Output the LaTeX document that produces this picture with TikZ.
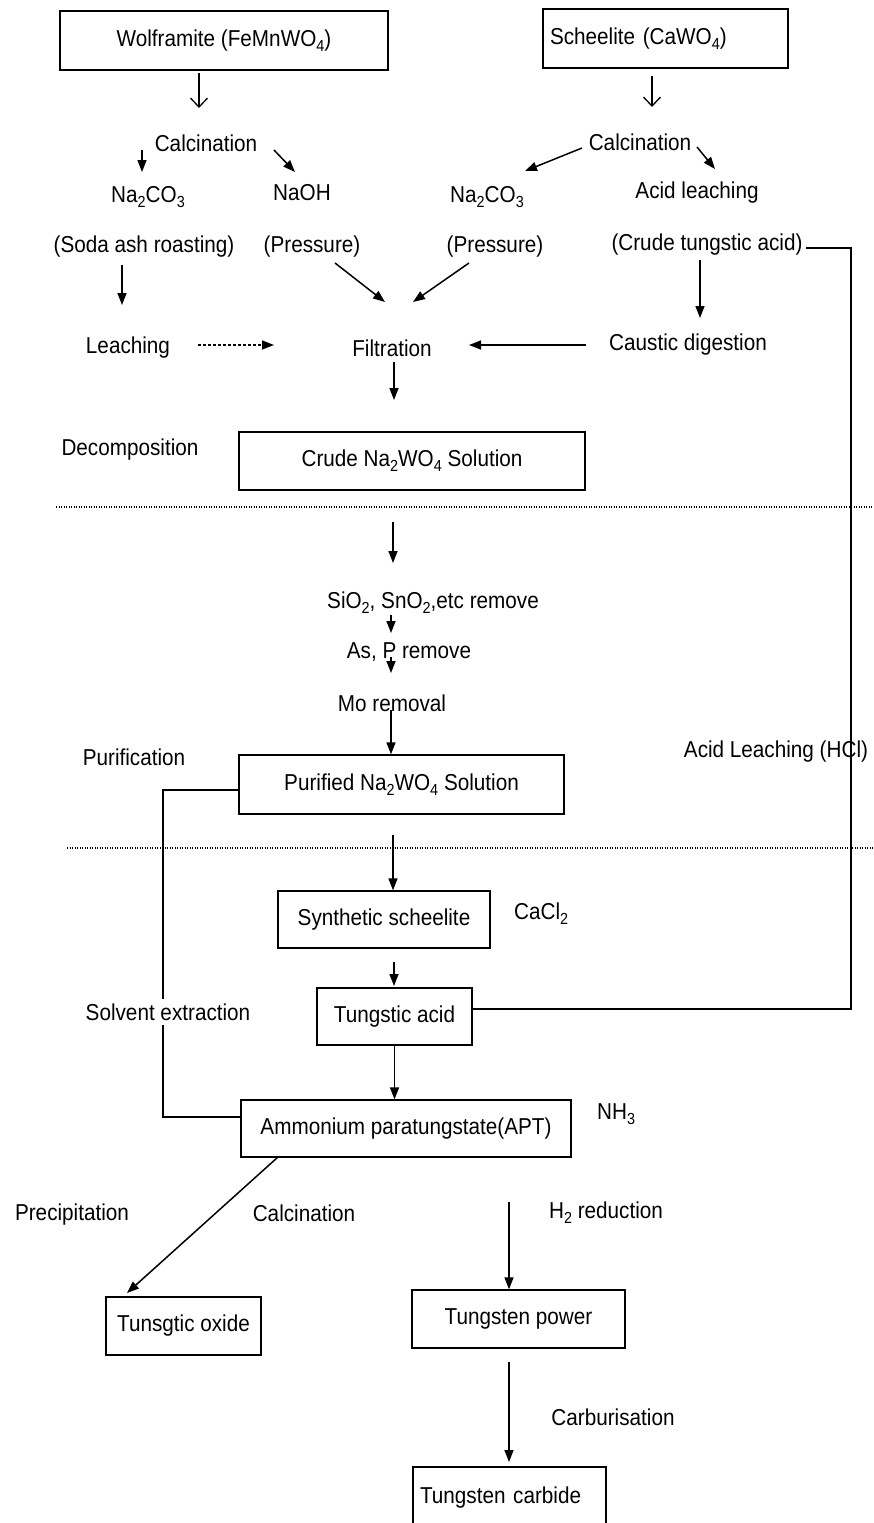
\documentclass[tikz,border=0pt]{standalone}
\usepackage{fontspec}
\setmainfont{Liberation Sans}[FakeStretch=0.9]
\usetikzlibrary{arrows.meta}
\newcommand{\chemsub}[1]{\raisebox{-5pt}{\fontsize{16}{16}\selectfont #1}}
\begin{document}
\begin{tikzpicture}[x=1pt,y=-1pt,
  every node/.style={font=\fontsize{23}{27}\selectfont, inner sep=0pt},
  box/.style={draw, line width=1.3pt, minimum height=58pt, inner sep=0pt},
  arr/.style={line width=1.5pt, -{Triangle[length=12pt,width=9pt]}},
  barb/.style={line width=1.3pt, -{Straight Barb[length=9pt,width=17pt]}},
  feedR/.style={line width=2.6pt},
  feedL/.style={line width=2pt},
  sep/.style={line width=1.4pt, dash pattern=on 1.3pt off 1.2pt},
]
\useasboundingbox (0,0) rectangle (873,1523);
\fill[white] (0,0) rectangle (873,1523);
\begin{scope}
\clip (0,0) rectangle (873,1523);

% ---------- ores ----------
\node[box, minimum width=328pt, minimum height=59pt] (wolf) at (224,40.5) {Wolframite (FeMnWO\chemsub{4})};
\node[box, minimum width=245pt, minimum height=59pt, text width=231pt, align=left] (sch) at (665.5,38.5) {Scheelite (CaWO\chemsub{4})};

% ---------- decomposition routes ----------
\node (calcL) at (206,143) {Calcination};
\node (calcR) at (640,142) {Calcination};
\node (naL) at (148,197) {Na\chemsub{2}CO\chemsub{3}};
\node (naoh) at (302,193) {NaOH};
\node (naR) at (487,197) {Na\chemsub{2}CO\chemsub{3}};
\node (acid) at (697,193) {Acid leaching};
\node (soda) at (144,247) {(Soda ash roasting)};
\node (presL) at (312,247) {(Pressure)};
\node (presR) at (495,247) {(Pressure)};
\node (crude) at (707,245) {(Crude tungstic acid)};
\node (leach) at (128,348) {Leaching};
\node (filt) at (392,348) {Filtration};
\node (caus) at (688,345) {Caustic digestion};
\node (decomp) at (130,450) {Decomposition};
\node[box, minimum width=346pt] (crudesol) at (412,461) {Crude Na\chemsub{2}WO\chemsub{4} Solution};

% ---------- purification ----------
\node[anchor=west] (sio) at (327,603) {SiO\chemsub{2}, SnO\chemsub{2},etc remove};
\node (asp) at (409,652) {As, P remove};
\node (mo) at (392,703) {Mo removal};
\node (purif) at (134,757) {Purification};
\node[box, minimum width=325pt, minimum height=59pt] (pursol) at (401.5,784.5) {Purified Na\chemsub{2}WO\chemsub{4} Solution};
\node (hcl) at (776,752) {Acid Leaching (HCl)};

% ---------- conversion ----------
\node[box, minimum width=212pt, minimum height=57pt] (synth) at (384,919.5) {Synthetic scheelite};
\node[anchor=west] (cacl) at (514,914) {CaCl\chemsub{2}};
\node[box, minimum width=155pt, minimum height=57pt] (tacid) at (394.5,1016.5) {Tungstic acid};
\node[box, minimum width=330pt, minimum height=57pt] (apt) at (406,1128.5) {Ammonium paratungstate(APT)};
\node[anchor=west] (nh) at (597,1114) {NH\chemsub{3}};
\node (precip) at (72,1215) {Precipitation};
\node (calc3) at (304,1213) {Calcination};
\node (h2) at (606,1213) {H\chemsub{2} reduction};
\node[box, minimum width=155pt, minimum height=58pt] (oxide) at (183.5,1326) {Tunsgtic oxide};
\node[box, minimum width=213pt, minimum height=58pt] (power) at (518.5,1319) {Tungsten power};
\node (carb) at (613,1417) {Carburisation};
\node[box, minimum width=193pt, minimum height=62pt, text width=179pt, align=left] (carbide) at (509.5,1498) {Tungsten carbide};

% ---------- arrow end points ----------
\coordinate (w1) at (199,73);   \coordinate (w2) at (199,108);
\coordinate (s1) at (652,76);   \coordinate (s2) at (652,107);
\coordinate (cl1) at (142,150); \coordinate (cl2) at (142,172);
\coordinate (cl3) at (274,150); \coordinate (cl4) at (295,172);
\coordinate (cr1) at (582,148); \coordinate (cr2) at (525,171);
\coordinate (cr3) at (697,147); \coordinate (cr4) at (715,169);
\coordinate (so1) at (122,265); \coordinate (so2) at (122,305);
\coordinate (pl1) at (335,263); \coordinate (pl2) at (385,302);
\coordinate (pr1) at (469,263); \coordinate (pr2) at (413,302);
\coordinate (ct1) at (700,260); \coordinate (ct2) at (700,318);
\coordinate (le1) at (198,345); \coordinate (le2) at (274,345);
\coordinate (ca1) at (586,345); \coordinate (ca2) at (469,345);
\coordinate (fi1) at (394,362); \coordinate (fi2) at (394,400);
\coordinate (cs1) at (393,522); \coordinate (cs2) at (393,563);
\coordinate (si1) at (391,615); \coordinate (si2) at (391,633);
\coordinate (as1) at (391,657); \coordinate (as2) at (391,673);
\coordinate (mo1) at (391,710);
\coordinate (ps1) at (393,835);
\coordinate (sy1) at (394,962); \coordinate (sy2) at (394,986);
\coordinate (ap1) at (278,1157); \coordinate (ap2) at (127,1293);
\coordinate (hr1) at (509,1202);
\coordinate (pw1) at (509,1362); \coordinate (pw2) at (509,1462);

% ---------- section separators ----------
\draw[sep] (56,507) -- (873,507);
\draw[sep] (67,848) -- (873,848);

% ---------- arrows ----------
\draw[barb] (w1) -- (w2);
\draw[barb] (s1) -- (s2);
\draw[arr] (cl1) -- (cl2);
\draw[arr] (cl3) -- (cl4);
\draw[arr] (cr1) -- (cr2);
\draw[arr] (cr3) -- (cr4);
\draw[arr] (so1) -- (so2);
\draw[arr] (pl1) -- (pl2);
\draw[arr] (pr1) -- (pr2);
\draw[arr] (ct1) -- (ct2);
\draw[arr, densely dashed] (le1) -- (le2);
\draw[arr] (ca1) -- (ca2);
\draw[arr] (fi1) -- (fi2);
\draw[arr] (cs1) -- (cs2);
\draw[arr] (si1) -- (si2);
\draw[arr] (as1) -- (as2);
\draw[arr] (mo1) -- (mo1 |- pursol.north);
\draw[arr] (ps1) -- (ps1 |- synth.north);
\draw[arr] (sy1) -- (sy2);
\draw[arr] (tacid.south) -- (tacid.south |- apt.north);
\draw[arr] (ap1) -- (ap2);
\draw[arr] (hr1) -- (hr1 |- power.north);
\draw[arr] (pw1) -- (pw2);

% ---------- recycle lines ----------
\draw[feedR] ([xshift=3pt,yshift=-3pt]crude.east) -| (851,1009) -- ([yshift=7.5pt]tacid.east);
\draw[feedL] ([yshift=-5.5pt]pursol.west) -| (163,1117) -- ([yshift=11.5pt]apt.west);
\node[fill=white, inner xsep=1pt, inner ysep=5pt] (solv) at (168,1012) {Solvent extraction};
\end{scope}
\end{tikzpicture}
\end{document}
